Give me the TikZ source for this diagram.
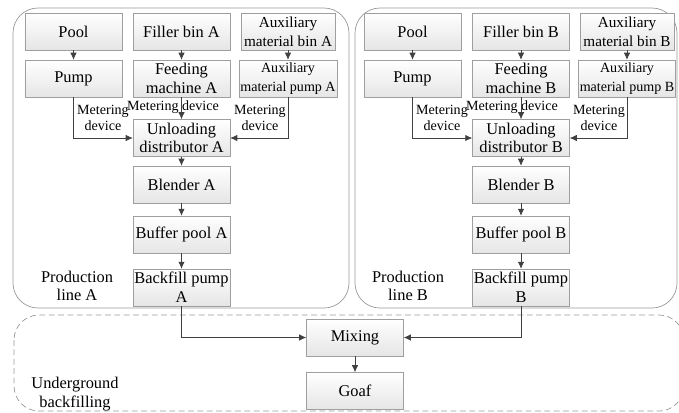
\documentclass[tikz,border=0pt]{standalone}
\usepackage{fontspec}
\setmainfont{Liberation Serif}
\usetikzlibrary{arrows.meta}

\begin{document}
\begin{tikzpicture}[x=0.03cm, y=-0.03cm, >={Latex[length=6pt,width=5.5pt]},
  box/.style={draw=gray!75, shape=rectangle, top color=white, bottom color=gray!20, minimum width=2.91cm, minimum height=1.11cm, align=center, inner sep=1pt, font=\rmfamily\fontsize{14}{16}\selectfont},
  narrowbox/.style={box, minimum width=2.82cm},
  flow/.style={->, draw=black!75, line width=0.6pt},
  note/.style={align=center, font=\rmfamily\fontsize{12}{14}\selectfont},
  caption/.style={align=center, font=\rmfamily\fontsize{14}{16}\selectfont},
  panel/.style={draw=gray!80, rounded corners=0.75cm, line width=0.6pt}]
\useasboundingbox (0,0) rectangle (679,412);
% frames
\draw[panel] (13,8) rectangle (349,308);
\draw[panel] (355,8) rectangle (677,308);
\draw[panel, dash pattern=on 5pt off 3pt] (14,315) rectangle (684,411);
% production line A
\node[box] (poolA) at (73.5,31.5) {Pool};
\node[box, right of=poolA, node distance=3.24cm] (fillA) {Filler bin A};
\node[narrowbox, right of=fillA, node distance=3.195cm, font=\rmfamily\fontsize{13}{16}\selectfont] (auxbA) {Auxiliary\\material bin A};
\node[box, below of=poolA, node distance=1.41cm] (pumpA) {Pump};
\node[box, below of=fillA, node distance=1.41cm] (feedA) {Feeding\\machine A};
\node[narrowbox, below of=auxbA, node distance=1.41cm, font=\rmfamily\fontsize{12}{16}\selectfont] (auxpA) {Auxiliary\\material pump A};
\node[box, below of=feedA, node distance=1.785cm] (unlA) {Unloading\\distributor A};
\node[box, below of=unlA, node distance=1.395cm] (blendA) {Blender A};
\node[box, below of=blendA, node distance=1.5cm] (bufA) {Buffer pool A};
\node[box, below of=bufA, node distance=1.59cm] (backA) {Backfill pump\\A};
\node[note] (meterA1) at (103,118) {Metering\\device};
\node[note] (meterA2) at (173,107) {Metering device};
\node[note] (meterA3) at (260,118) {Metering\\device};
\node[caption] (lineA) at (77,286) {Production\\line A};
% production line B
\node[box, right of=poolA, node distance=10.17cm] (poolB) {Pool};
\node[box, right of=poolB, node distance=3.255cm] (fillB) {Filler bin B};
\node[narrowbox, right of=fillB, node distance=3.18cm, font=\rmfamily\fontsize{13}{16}\selectfont] (auxbB) {Auxiliary\\material bin B};
\node[box, below of=poolB, node distance=1.41cm] (pumpB) {Pump};
\node[box, below of=fillB, node distance=1.41cm] (feedB) {Feeding\\machine B};
\node[narrowbox, below of=auxbB, node distance=1.41cm, font=\rmfamily\fontsize{12}{16}\selectfont] (auxpB) {Auxiliary\\material pump B};
\node[box, below of=feedB, node distance=1.785cm] (unlB) {Unloading\\distributor B};
\node[box, below of=unlB, node distance=1.395cm] (blendB) {Blender B};
\node[box, below of=blendB, node distance=1.5cm] (bufB) {Buffer pool B};
\node[box, below of=bufB, node distance=1.59cm] (backB) {Backfill pump\\B};
\node[note] (meterB1) at (442,118) {Metering\\device};
\node[note] (meterB2) at (512,107) {Metering device};
\node[note] (meterB3) at (599,118) {Metering\\device};
\node[caption] (lineB) at (408,286) {Production\\line B};
% underground
\node[box] (mix) at (355,337.5) {Mixing};
\node[box, below of=mix, node distance=1.605cm] (goaf) {Goaf};
\node[caption] (under) at (75,394) {Underground\\backfilling};
% connectors
\draw[flow] (poolA) -- (pumpA);
\draw[flow] (fillA) -- (feedA);
\draw[flow] (auxbA) -- (auxpA);
\draw[flow] (pumpA.south) |- (unlA.west);
\draw[flow] (feedA) -- (unlA);
\draw[flow] (auxpA.south) |- (unlA.east);
\draw[flow] (unlA) -- (blendA);
\draw[flow] (blendA) -- (bufA);
\draw[flow] (bufA) -- (backA);
\draw[flow] (poolB) -- (pumpB);
\draw[flow] (fillB) -- (feedB);
\draw[flow] (auxbB) -- (auxpB);
\draw[flow] (pumpB.south) |- (unlB.west);
\draw[flow] (feedB) -- (unlB);
\draw[flow] (auxpB.south) |- (unlB.east);
\draw[flow] (unlB) -- (blendB);
\draw[flow] (blendB) -- (bufB);
\draw[flow] (bufB) -- (backB);
\draw[flow] (backA.south) |- (mix.west);
\draw[flow] (backB.south) |- (mix.east);
\draw[flow] (mix) -- (goaf);
\end{tikzpicture}
\end{document}
